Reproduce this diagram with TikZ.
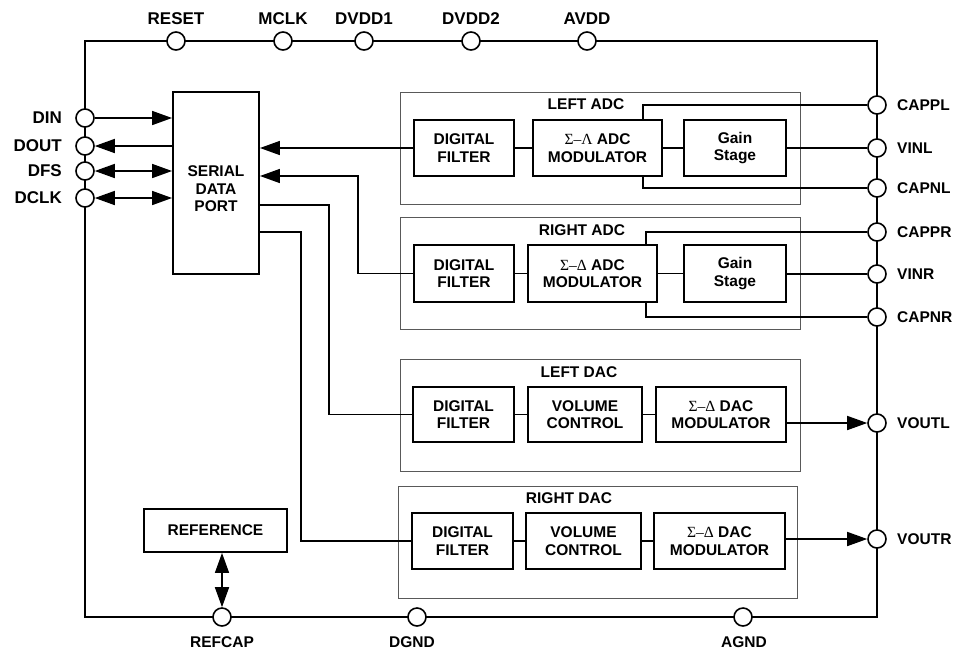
\documentclass[tikz,border=0pt]{standalone}
\usepackage{fontspec}
\setmainfont{Liberation Sans}
\newfontfamily\sgfont{Liberation Serif}
\usetikzlibrary{arrows.meta}
\tikzset{
  blk/.style={draw, line width=1.9pt, align=center, inner sep=0pt,
    font=\bfseries\fontsize{15.5}{17.5}\selectfont},
  grp/.style={draw=black!65, line width=0.9pt},
  grplbl/.style={font=\bfseries\fontsize{15.5}{17.5}\selectfont, inner sep=0pt},
  pin/.style={circle, draw, line width=1.6pt, fill=white, minimum size=18pt, inner sep=0pt},
  wire/.style={line width=1.6pt},
  tip/.tip={Triangle[length=20pt, width=14pt]},
  lblbig/.style={font=\bfseries\fontsize{17}{19}\selectfont, inner sep=0pt},
  lblsm/.style={font=\bfseries\fontsize{15.5}{17.5}\selectfont, inner sep=0pt}
}
\newcommand{\SD}{{\sgfont\mdseries Σ–Δ}}
\newcommand{\SL}{{\sgfont\mdseries Σ–Λ}}
\begin{document}
\begin{tikzpicture}[x=1pt, y=-1pt]
\useasboundingbox (0,0) rectangle (955,649);
% outer frame
\draw[wire] (85,41) rectangle (877,617);

% group boxes
\draw[grp] (400,92) rectangle (800,204);
\node[grplbl] (ladct) at (586,104) {LEFT ADC};
\draw[grp] (400,217) rectangle (800,329);
\node[grplbl] (radct) at (582,230) {RIGHT ADC};
\draw[grp] (400,359) rectangle (800,471);
\node[grplbl] (ldact) at (579,372) {LEFT DAC};
\draw[grp] (398,486) rectangle (797,598);
\node[grplbl] (rdact) at (569,498) {RIGHT DAC};

% serial data port
\node[blk, minimum width=86pt, minimum height=182pt] (sdp) at (216,183) {};
\node[lblsm, align=center] (sdptxt) at (216,189) {SERIAL\\DATA\\PORT};

% reference
\node[blk, minimum width=143pt, minimum height=43pt] (ref) at (215.5,530.5) {REFERENCE};

% left ADC blocks
\node[blk, minimum width=100pt, minimum height=56pt] (ldf) at (464,148) {DIGITAL\\FILTER};
\node[blk, minimum width=129pt, minimum height=56pt] (lmod) at (597.5,148) {\SL{} ADC\\MODULATOR};
\node[blk, minimum width=102pt, minimum height=56pt] (lgain) at (735,148) {Gain\\Stage};
% right ADC blocks
\node[blk, minimum width=100pt, minimum height=57pt] (rdf) at (464,273.5) {DIGITAL\\FILTER};
\node[blk, minimum width=129pt, minimum height=57pt] (rmod) at (592.5,273.5) {\SD{} ADC\\MODULATOR};
\node[blk, minimum width=102pt, minimum height=57pt] (rgain) at (735,273.5) {Gain\\Stage};
% left DAC blocks
\node[blk, minimum width=101pt, minimum height=55pt] (ldacdf) at (463.5,414.5) {DIGITAL\\FILTER};
\node[blk, minimum width=114pt, minimum height=55pt] (lvol) at (585,414.5) {VOLUME\\CONTROL};
\node[blk, minimum width=130pt, minimum height=55pt] (ldmod) at (721,414.5) {\SD{} DAC\\MODULATOR};
% right DAC blocks
\node[blk, minimum width=101pt, minimum height=56pt] (rdacdf) at (462.5,541) {DIGITAL\\FILTER};
\node[blk, minimum width=115pt, minimum height=56pt] (rvol) at (583.5,541) {VOLUME\\CONTROL};
\node[blk, minimum width=131pt, minimum height=56pt] (rdmod) at (719.5,541) {\SD{} DAC\\MODULATOR};

% pins: top
\node[pin] (reset) at (176,41) {};
\node[pin] (mclk) at (283,41) {};
\node[pin] (dvdd1) at (364,41) {};
\node[pin] (dvdd2) at (471,41) {};
\node[pin] (avdd) at (587,41) {};
\node[lblbig] (resetl) at (176,19) {RESET};
\node[lblbig] (mclkl) at (283,19) {MCLK};
\node[lblbig] (dvdd1l) at (364,19) {DVDD1};
\node[lblbig] (dvdd2l) at (471,19) {DVDD2};
\node[lblbig] (avddl) at (587,19) {AVDD};
% pins: left
\node[pin] (din) at (85,118) {};
\node[pin] (dout) at (85,146) {};
\node[pin] (dfs) at (85,171) {};
\node[pin] (dclk) at (85,198) {};
\node[lblbig, anchor=east] (dinl) at (62,118) {DIN};
\node[lblbig, anchor=east] (doutl) at (62,146) {DOUT};
\node[lblbig, anchor=east] (dfsl) at (62,171) {DFS};
\node[lblbig, anchor=east] (dclkl) at (62,198) {DCLK};
% pins: right
\node[pin] (cappl) at (877,105) {};
\node[pin] (vinl) at (877,148) {};
\node[pin] (capnl) at (877,188) {};
\node[pin] (cappr) at (877,232) {};
\node[pin] (vinr) at (877,274) {};
\node[pin] (capnr) at (877,317) {};
\node[pin] (voutl) at (877,423) {};
\node[pin] (voutr) at (877,539) {};
\node[lblsm, anchor=west] (capplt) at (897,105) {CAPPL};
\node[lblsm, anchor=west] (vinlt) at (897,148) {VINL};
\node[lblsm, anchor=west] (capnlt) at (897,188) {CAPNL};
\node[lblsm, anchor=west] (capprt) at (897,232) {CAPPR};
\node[lblsm, anchor=west] (vinrt) at (897,274) {VINR};
\node[lblsm, anchor=west] (capnrt) at (897,317) {CAPNR};
\node[lblsm, anchor=west] (voutlt) at (897,423) {VOUTL};
\node[lblsm, anchor=west] (voutrt) at (897,539) {VOUTR};
% pins: bottom
\node[pin] (refcap) at (222,617) {};
\node[pin] (dgnd) at (417,617) {};
\node[pin] (agnd) at (743,617) {};
\node[lblsm] (refcapl) at (222,642) {REFCAP};
\node[lblsm] (dgndl) at (412,642) {DGND};
\node[lblsm] (agndl) at (744,642) {AGND};

% serial port pins
\draw[wire, -tip] (din) -- (din -| sdp.west);
\draw[wire, -tip] (dout -| sdp.west) -- (dout);
\draw[wire, tip-tip] (dfs) -- (dfs -| sdp.west);
\draw[wire, tip-tip] (dclk) -- (dclk -| sdp.west);

% reference
\draw[wire, tip-tip] (refcap) -- (refcap |- ref.south);

% left ADC chain
\draw[wire, -tip] (ldf.west) -- (ldf.west -| sdp.east);
\draw[wire] (ldf) -- (lmod);
\draw[wire] (lmod) -- (lgain);
\draw[wire] (lgain.east) -- (vinl);
\draw[wire] (lmod.north east) ++(-20,0) |- (cappl);
\draw[wire] (lmod.south east) ++(-20,0) |- (capnl);

% right ADC chain
\coordinate (rj) at (358,176);
\draw[wire, -tip] (rdf.west) -| (rj) -- (rj -| sdp.east);
\draw[wire] (rdf) -- (rmod);
\draw[wire] (rmod) -- (rgain);
\draw[wire] (rgain.east |- vinr) -- (vinr);
\draw[wire] (rmod.north east) ++(-12,0) |- (cappr);
\draw[wire] (rmod.south east) ++(-12,0) |- (capnr);

% left DAC chain
\coordinate (o1) at (329,205);
\draw[wire] (o1 -| sdp.east) -- (o1) |- (ldacdf.west);
\draw[wire] (ldacdf) -- (lvol);
\draw[wire] (lvol) -- (ldmod);
\draw[wire, -tip] (ldmod.east |- voutl) -- (voutl);

% right DAC chain
\coordinate (o2) at (301,232);
\draw[wire] (o2 -| sdp.east) -- (o2) |- (rdacdf.west);
\draw[wire] (rdacdf) -- (rvol);
\draw[wire] (rvol) -- (rdmod);
\draw[wire, -tip] (rdmod.east |- voutr) -- (voutr);
\end{tikzpicture}
\end{document}
